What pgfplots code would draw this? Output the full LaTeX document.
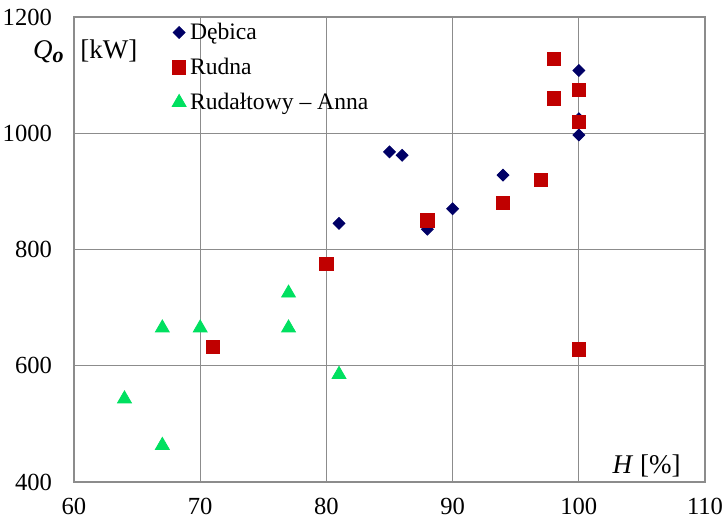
\documentclass[border=0pt]{standalone}
\usepackage{fontspec}
\setmainfont{Liberation Serif}
\usepackage{pgfplots}
\pgfplotsset{compat=1.18}
\definecolor{cDeb}{HTML}{000066}
\definecolor{cRud}{HTML}{C00000}
\definecolor{cRA}{HTML}{00E060}
\begin{document}
\begin{tikzpicture}
\begin{axis}[
  name=ax,
  scale only axis,
  width=315.5pt, height=232.5pt,
  xmin=60, xmax=110, ymin=400, ymax=1200,
  xtick={60,70,...,110}, ytick={400,600,...,1200},
  grid=major,
  grid style={draw=black!45, line width=0.6pt},
  axis line style={draw=black!45, line width=0.7pt},
  major tick length=0pt,
  /pgf/number format/assume math mode=true,
  /pgf/number format/1000 sep={},
  tick label style={font=\fontsize{12.3}{13}\selectfont},
  xticklabel style={yshift=-4.5pt},
  yticklabel style={xshift=-7.5pt},
  legend style={at={(rel axis cs:0.155,0.997)}, anchor=north west, draw=none, fill=none,
    font=\fontsize{11.8}{12}\selectfont, row sep=3.8pt, inner sep=0pt},
  legend cell align=left,
  clip=false,
]
\addplot[only marks, mark=square*, mark options={rotate=45}, mark size=2.1pt, color=cDeb] coordinates {
  (81,845) (85,968) (86,962) (88,835) (90,870) (94,928) (100,1108) (100,1025) (100,997)
};
\addlegendentry{Dębica}
\addplot[only marks, mark=square*, mark size=3.3pt, color=cRud] coordinates {
  (71,632) (80,775) (88,850) (94,880) (97,920) (98,1128) (98,1060) (100,1075) (100,1020) (100,628)
};
\addlegendentry{Rudna}
\addplot[only marks, mark=triangle*, mark size=4pt, color=cRA] coordinates {
  (64,543) (67,463) (67,665) (70,665) (77,725) (77,665) (81,585)
};
\addlegendentry{Rudałtowy – Anna}
\node[anchor=base east, font=\fontsize{13.5}{14}\selectfont, inner sep=0pt, xshift=-5pt, yshift=-21pt] at (rel axis cs:0,1) {\textit{Q}\raisebox{-0.25ex}{\fontsize{11}{12}\selectfont\textit{\textbf{o}}}};
\node[anchor=base west, font=\fontsize{13.5}{14}\selectfont, inner sep=0pt, xshift=3pt, yshift=-21pt] at (rel axis cs:0,1) {[kW]};
\node[anchor=base east, font=\fontsize{13.5}{14}\selectfont, inner sep=0pt, xshift=-12pt, yshift=4pt] at (rel axis cs:1,0) {\textit{H} [\%]};
\end{axis}
\pgfresetboundingbox
\path ([shift={(-37pt,-20.5pt)}]ax.south west) rectangle ([shift={(9.5pt,8.5pt)}]ax.north east);
\end{tikzpicture}
\end{document}
